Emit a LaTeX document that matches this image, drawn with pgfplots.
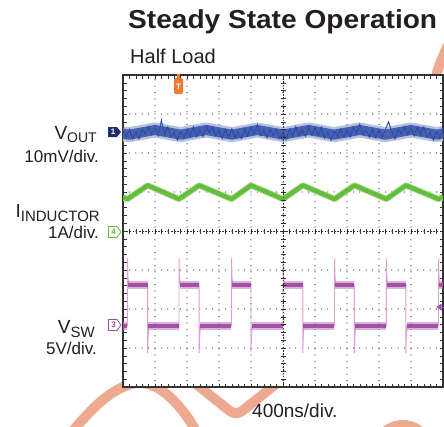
\documentclass[border=0pt]{standalone}
\usepackage{pgfplots}
\pgfplotsset{compat=1.18}
\usepackage{fontspec}
\setmainfont{Liberation Sans}
\definecolor{voutblue}{RGB}{45,75,165}
\definecolor{ilgreen}{RGB}{100,190,60}
\definecolor{swpurple}{RGB}{165,80,165}
\definecolor{swlight}{RGB}{220,160,215}
\definecolor{salmon}{RGB}{238,170,145}
\definecolor{trigorange}{RGB}{240,120,50}
\definecolor{navy}{RGB}{35,45,110}
\definecolor{frame}{RGB}{50,50,50}
\definecolor{gridc}{RGB}{70,70,70}
\definecolor{txt}{RGB}{35,31,32}
\begin{document}
\begin{tikzpicture}[x=1pt,y=1pt]
\useasboundingbox (0,0) rectangle (444,-426);
% decorative swooshes
\begin{scope}
\clip (0,0) rectangle (444,-426);
\draw[salmon, line width=10pt] plot[smooth, tension=0.6] coordinates {(62,-445) (77,-426) (98,-404) (117,-390) (137,-383) (156,-387) (173,-400) (188,-418) (198,-435)};
\draw[salmon, line width=10pt, rounded corners=8pt] (185,-375) -- (236,-416) -- (287,-375);
\draw[salmon, line width=10pt] (378,-440) .. controls (390,-420) and (415,-420) .. (428,-440);
\draw[salmon, line width=10pt] (434,-90) .. controls (437,-70) .. (448,-45);
\end{scope}
\fill[white] (123,-75) rectangle (443,-387);
\begin{axis}[at={(123pt,-387pt)}, anchor=south west,
  width=320pt, height=312pt, scale only axis,
  xmin=0, xmax=10, ymin=-4, ymax=4,
  xtick={0,...,10}, ytick={-4,...,4},
  minor x tick num=4, minor y tick num=4,
  xticklabels={}, yticklabels={},
  tick align=inside, tick pos=both,
  major tick length=3.5pt, minor tick length=3.5pt,
  every tick/.style={frame, line width=0.6pt},
  grid=major,
  major grid style={gridc, line width=1.3pt, dash pattern=on 0pt off 6.4pt, line cap=round},
  axis line style={frame, line width=2.6pt},
  unbounded coords=jump]
% V_SW thin full waveform (edges and spikes)
\addplot[swlight, line width=0.9pt] coordinates {
(0,-2.44)
(0.14,-2.44)(0.14,-0.70)(0.155,-1.15)(0.18,-1.38)(0.77,-1.38)(0.77,-3.13)(0.785,-2.7)(0.81,-2.44)
(1.75,-2.44)(1.75,-0.70)(1.765,-1.15)(1.79,-1.38)(2.38,-1.38)(2.38,-3.13)(2.395,-2.7)(2.42,-2.44)
(3.39,-2.44)(3.39,-0.70)(3.405,-1.15)(3.43,-1.38)(4.0,-1.38)(4.0,-3.13)(4.015,-2.7)(4.04,-2.44)
(5.0,-2.44)(5.0,-0.70)(5.015,-1.15)(5.04,-1.38)(5.62,-1.38)(5.62,-3.13)(5.635,-2.7)(5.66,-2.44)
(6.61,-2.44)(6.61,-0.70)(6.625,-1.15)(6.65,-1.38)(7.23,-1.38)(7.23,-3.13)(7.245,-2.7)(7.27,-2.44)
(8.23,-2.44)(8.23,-0.70)(8.245,-1.15)(8.27,-1.38)(8.84,-1.38)(8.84,-3.13)(8.855,-2.7)(8.88,-2.44)
(9.86,-2.44)(9.86,-0.70)(9.875,-1.15)(9.9,-1.38)(10,-1.38)};
% V_SW levels
\addplot[swpurple!70, line width=8pt, opacity=0.6] coordinates {
(0,-2.44)(0.13,-2.44)(0.14,nan)
(0.16,-1.38)(0.77,-1.38)(0.78,nan)
(0.79,-2.44)(1.74,-2.44)(1.75,nan)
(1.77,-1.38)(2.38,-1.38)(2.39,nan)
(2.40,-2.44)(3.38,-2.44)(3.39,nan)
(3.41,-1.38)(4.0,-1.38)(4.01,nan)
(4.02,-2.44)(4.99,-2.44)(5.0,nan)
(5.02,-1.38)(5.62,-1.38)(5.63,nan)
(5.64,-2.44)(6.60,-2.44)(6.61,nan)
(6.63,-1.38)(7.23,-1.38)(7.24,nan)
(7.25,-2.44)(8.22,-2.44)(8.23,nan)
(8.25,-1.38)(8.84,-1.38)(8.85,nan)
(8.86,-2.44)(9.85,-2.44)(9.86,nan)
(9.88,-1.38)(10,-1.38)};
\addplot[swpurple, line width=4.5pt] coordinates {
(0,-2.44)(0.13,-2.44)(0.14,nan)
(0.16,-1.38)(0.77,-1.38)(0.78,nan)
(0.79,-2.44)(1.74,-2.44)(1.75,nan)
(1.77,-1.38)(2.38,-1.38)(2.39,nan)
(2.40,-2.44)(3.38,-2.44)(3.39,nan)
(3.41,-1.38)(4.0,-1.38)(4.01,nan)
(4.02,-2.44)(4.99,-2.44)(5.0,nan)
(5.02,-1.38)(5.62,-1.38)(5.63,nan)
(5.64,-2.44)(6.60,-2.44)(6.61,nan)
(6.63,-1.38)(7.23,-1.38)(7.24,nan)
(7.25,-2.44)(8.22,-2.44)(8.23,nan)
(8.25,-1.38)(8.84,-1.38)(8.85,nan)
(8.86,-2.44)(9.85,-2.44)(9.86,nan)
(9.88,-1.38)(10,-1.38)};
% Inductor current
\addplot[ilgreen!60, line width=6pt, line join=round] coordinates {
(0,0.86)(0.14,0.82)(0.77,1.17)(1.75,0.82)(2.38,1.17)(3.39,0.82)(4.0,1.17)
(5.0,0.82)(5.62,1.17)(6.61,0.82)(7.23,1.17)(8.23,0.82)(8.84,1.17)(9.86,0.82)(10,0.87)};
\addplot[ilgreen, line width=4.2pt, line join=round] coordinates {
(0,0.86)(0.14,0.82)(0.77,1.17)(1.75,0.82)(2.38,1.17)(3.39,0.82)(4.0,1.17)
(5.0,0.82)(5.62,1.17)(6.61,0.82)(7.23,1.17)(8.23,0.82)(8.84,1.17)(9.86,0.82)(10,0.87)};
% V_OUT slow ripple band: fringe and core
\addplot[voutblue!35, line width=15pt, line join=round] coordinates {
(0,2.49)(0.2,2.47)(1.0,2.59)(1.8,2.47)(2.6,2.59)(3.4,2.47)(4.2,2.59)(5.0,2.47)
(5.8,2.59)(6.6,2.47)(7.4,2.59)(8.2,2.47)(9.0,2.59)(9.8,2.47)(10,2.50)};
\addplot[voutblue!88, line width=10pt, line join=round] coordinates {
(0,2.49)(0.2,2.47)(1.0,2.59)(1.8,2.47)(2.6,2.59)(3.4,2.47)(4.2,2.59)(5.0,2.47)
(5.8,2.59)(6.6,2.47)(7.4,2.59)(8.2,2.47)(9.0,2.59)(9.8,2.47)(10,2.50)};
% V_OUT noise
\addplot[voutblue, line width=0.9pt] coordinates {
(0.0,2.59)(0.1,2.40)(0.2,2.61)(0.3,2.36)(0.4,2.54)(0.5,2.36)(0.6,2.62)(0.7,2.49)(0.8,2.68)(0.9,2.47)
(1.0,2.65)(1.1,2.44)(1.2,2.84)(1.3,2.47)(1.4,2.67)(1.5,2.41)(1.6,2.52)(1.7,2.33)(1.8,2.55)(1.9,2.37)
(2.0,2.60)(2.1,2.43)(2.2,2.67)(2.3,2.42)(2.4,2.60)(2.5,2.42)(2.6,2.68)(2.7,2.52)(2.8,2.67)(2.9,2.44)
(3.0,2.58)(3.1,2.37)(3.2,2.60)(3.3,2.40)(3.4,2.62)(3.5,2.39)(3.6,2.53)(3.7,2.37)(3.8,2.61)(3.9,2.43)
(4.0,2.66)(4.1,2.49)(4.2,2.73)(4.3,2.45)(4.4,2.59)(4.5,2.39)(4.6,2.61)(4.7,2.45)(4.8,2.61)(4.9,2.37)
(5.0,2.53)(5.1,2.35)(5.2,2.61)(5.3,2.44)(5.4,2.68)(5.5,2.45)(5.6,2.59)(5.7,2.43)(5.8,2.67)(5.9,2.46)
(6.0,2.65)(6.1,2.46)(6.2,2.66)(6.3,2.38)(6.4,2.53)(6.5,2.32)(6.6,2.56)(6.7,2.43)(6.8,2.62)(6.9,2.41)
(7.0,2.59)(7.1,2.41)(7.2,2.67)(7.3,2.50)(7.4,2.74)(7.5,2.48)(7.6,2.58)(7.7,2.40)(7.8,2.60)(7.9,2.39)
(8.0,2.59)(8.1,2.39)(8.2,2.61)(8.3,2.80)(8.4,2.54)(8.5,2.36)(8.6,2.62)(8.7,2.49)(8.8,2.68)(8.9,2.47)
(9.0,2.65)(9.1,2.44)(9.2,2.66)(9.3,2.47)(9.4,2.67)(9.5,2.41)(9.6,2.52)(9.7,2.33)(9.8,2.55)(9.9,2.37)
(10.0,2.60)};
\end{axis}
% centre crosshair
\draw[frame, line width=0.7pt, dash pattern=on 1.6pt off 1.6pt] (123,-231) -- (443,-231);
\draw[frame, line width=0.7pt, dash pattern=on 1.6pt off 1.6pt] (283,-75) -- (283,-387);
\foreach \i in {1,...,49} \draw[frame, line width=0.6pt] (123+\i*6.4,-228.5) -- (123+\i*6.4,-233.5);
\foreach \i in {1,...,39} \draw[frame, line width=0.6pt] (280.5,-75-\i*7.8) -- (285.5,-75-\i*7.8);
% channel markers
\fill[navy] (108,-127) -- (117,-127) -- (121,-132) -- (117,-137) -- (108,-137) -- cycle;
\node[white, inner sep=0, font=\fontsize{8}{8}\selectfont\bfseries] at (113,-132) {1};
\draw[ilgreen, fill=white, line width=0.8pt] (108.5,-226.5) -- (117,-226.5) -- (121,-232) -- (117,-237.5) -- (108.5,-237.5) -- cycle;
\node[ilgreen, inner sep=0, font=\fontsize{8}{8}\selectfont\bfseries] at (113.5,-232) {4};
\draw[swpurple, fill=white, line width=0.8pt] (108.5,-319.5) -- (117,-319.5) -- (121,-325) -- (117,-330.5) -- (108.5,-330.5) -- cycle;
\node[swpurple, inner sep=0, font=\fontsize{8}{8}\selectfont\bfseries] at (113.5,-325) {3};
% trigger marker
\fill[trigorange] (177,-74) rectangle (180,-80);
\fill[trigorange, rounded corners=2pt] (174,-78) rectangle (183,-94);
\node[white, inner sep=0, font=\fontsize{8}{8}\selectfont\bfseries] at (178.5,-86.5) {T};
% trigger level arrow
\fill[swpurple] (436.5,-307) -- (441.5,-303.5) -- (441.5,-310.5) -- cycle;
\draw[swpurple, line width=1pt] (441,-307) -- (444,-307);
% texts
\node[anchor=base west, inner sep=0, txt] at (128,-28) {\scalebox{1.08}[1]{\fontsize{26}{26}\selectfont\bfseries Steady State Operation}};
\node[anchor=base west, inner sep=0, txt] at (130,-63) {\fontsize{20}{20}\selectfont Half Load};
\node[anchor=base east, inner sep=0, txt] at (97,-139) {\fontsize{19}{19}\selectfont V\raisebox{-3pt}{\fontsize{14}{14}\selectfont OUT}};
\node[anchor=base east, inner sep=0, txt] at (99,-162) {\fontsize{17}{17}\selectfont 10mV/div.};
\node[anchor=base east, inner sep=0, txt] at (100,-217) {\fontsize{19}{19}\selectfont I\raisebox{-4pt}{\fontsize{15}{15}\selectfont INDUCTOR}};
\node[anchor=base east, inner sep=0, txt] at (99,-238) {\fontsize{17}{17}\selectfont 1A/div.};
\node[anchor=base east, inner sep=0, txt] at (95,-333) {\fontsize{19}{19}\selectfont V\raisebox{-4pt}{\fontsize{15}{15}\selectfont SW}};
\node[anchor=base east, inner sep=0, txt] at (97,-354) {\fontsize{17}{17}\selectfont 5V/div.};
\node[anchor=base west, inner sep=0, txt] at (252,-417) {\fontsize{19}{19}\selectfont 400ns/div.};
\end{tikzpicture}
\end{document}
